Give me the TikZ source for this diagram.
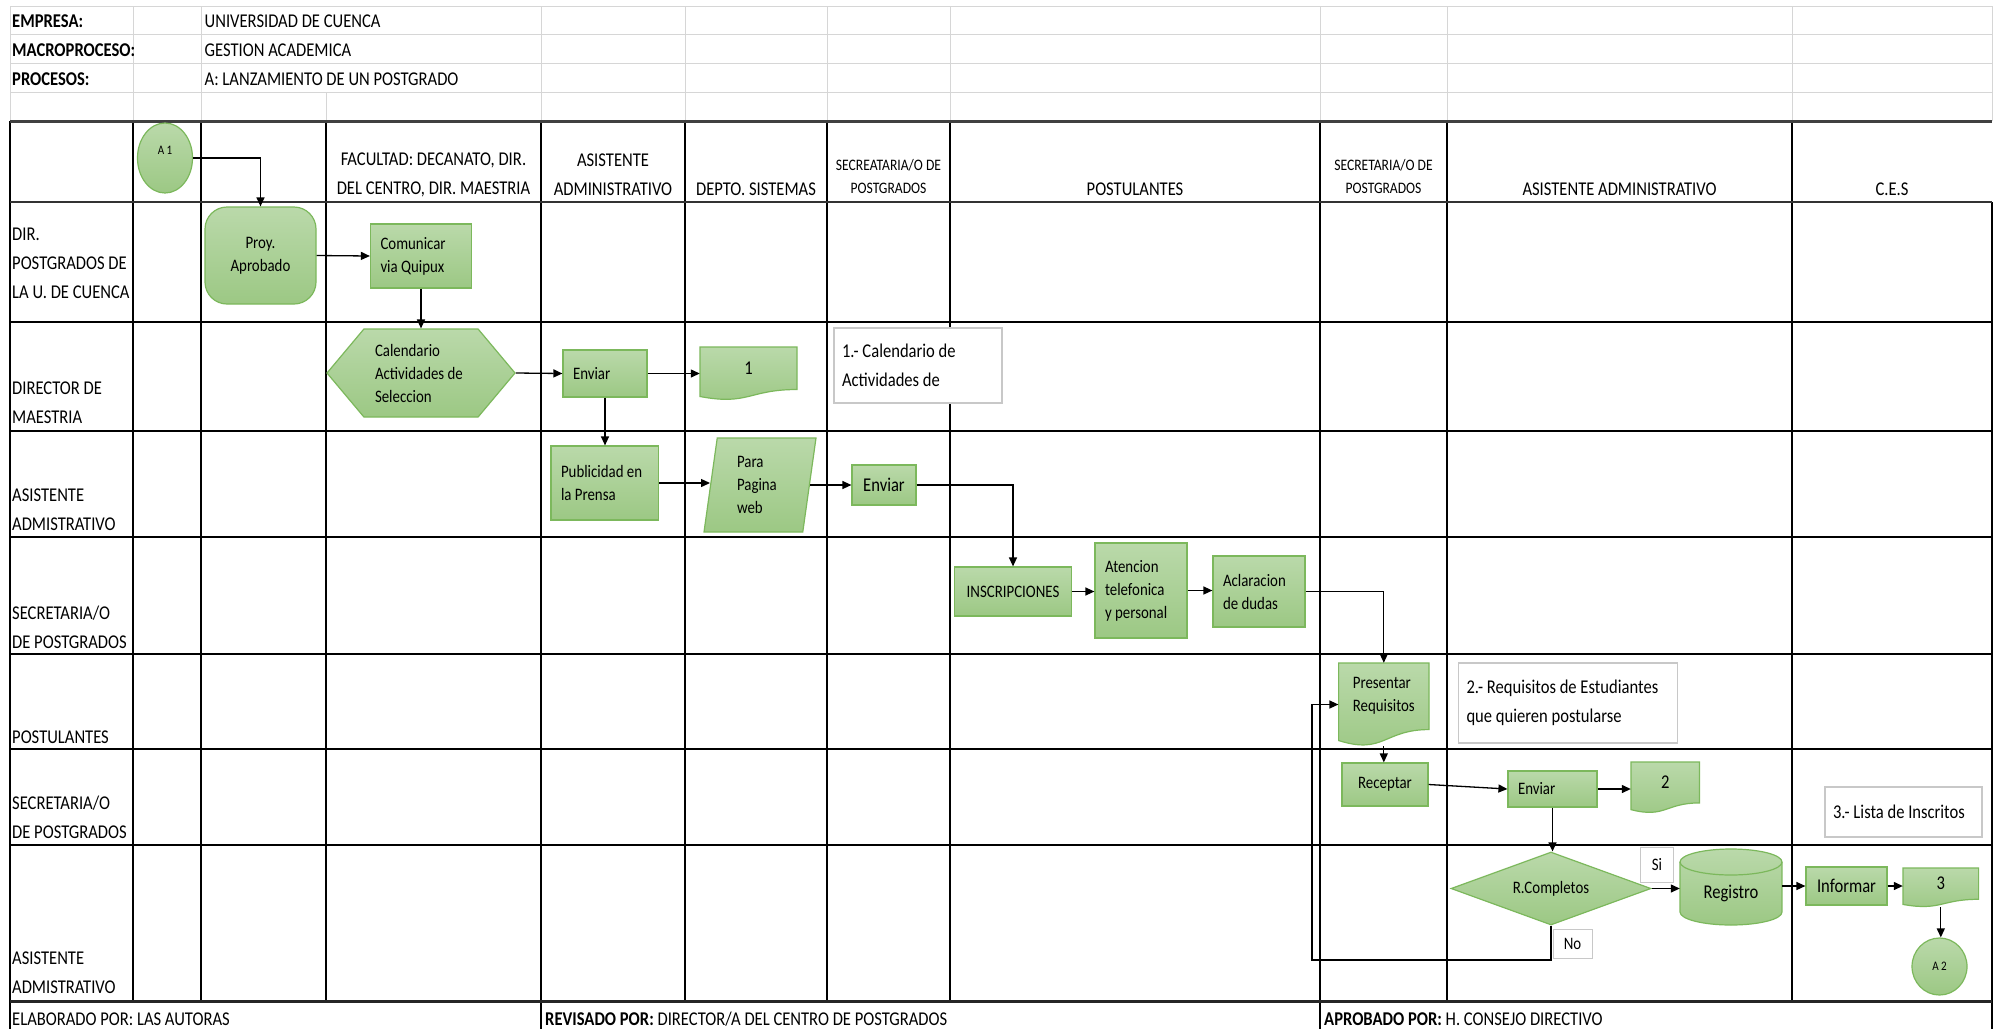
\documentclass[tikz,border=0pt]{standalone}
\usepackage{fontspec}
\setmainfont{Carlito}[FakeStretch=0.85]
\usetikzlibrary{shapes.geometric,shapes.symbols,arrows.meta}
\definecolor{boxtop}{RGB}{186,217,170}
\definecolor{boxbot}{RGB}{156,200,132}
\definecolor{boxline}{RGB}{124,184,92}
\definecolor{gridgray}{RGB}{214,214,214}
\definecolor{notegray}{RGB}{200,200,200}
\newcommand\fbig{\fontsize{19.5}{29}\selectfont}
\newcommand\fmid{\fontsize{17.5}{23}\selectfont}
\newcommand\fsmall{\fontsize{16}{23}\selectfont}
\newcommand\ftiny{\fontsize{13}{15}\selectfont}
\newcommand\docnode[7]{%
  \path[flowfill] (#2,#3) -- ++(#4,0) -- ++(0,{0.802*#5})
    .. controls +({-0.5*#4},0) and +({0.5*#4},{0.173*#5}) .. ++({-#4},{0.132*#5}) -- cycle;
  \node[inner sep=0pt,minimum width=#4,minimum height=#5] (#1) at ({#2+#4/2},{#3+#5/2}) {};
  \node[inner sep=0pt,align=flush left,font=#6] (#1-t) at ({#2+#4/2},{#3+0.4*#5}) {#7};}
\begin{document}
\begin{tikzpicture}[x=1pt,y=-1pt,
  flowfill/.style={draw=boxline,line width=1.2pt,top color=boxtop,bottom color=boxbot},
  proc/.style={flowfill,rectangle,inner xsep=10pt,inner ysep=2pt,font=\fmid,align=flush left},
  lbl/.style={inner sep=0pt,font=\fbig,anchor=west,align=left},
  hdr/.style={inner sep=0pt,font=\fbig,align=center},
  notebox/.style={draw=notegray,fill=white,line width=1.2pt,inner xsep=8pt,font=\fbig,
    align=flush left},
  tagbox/.style={draw=notegray,fill=white,line width=1pt,inner sep=0pt,font=\fmid},
  flow/.style={line width=1.3pt,-{Triangle[length=9pt,width=8pt]}},
  lane/.style={line width=1.5pt},
  thin grid/.style={gridgray,line width=1pt}]
\path[use as bounding box,fill=white] (0,0) rectangle (1997,1029);
\foreach \y in {6,34,63,92}
  \draw[thin grid] (10,\y) -- (1992,\y);
\foreach \x in {10,133,201,541,685,827,950,1320,1447,1792,1992}
  \draw[thin grid] (\x,6) -- (\x,121);
\draw[thin grid] (326,92) -- (326,121);
\foreach \x in {133,201,326,541,685,827,950,1447,1792}
  \draw[lane] (\x,121) -- (\x,1001);
\draw[lane] (10,121) -- (10,1029);
\draw[lane] (1320,121) -- (1320,1029);
\draw[lane] (1992,202) -- (1992,1029);
\draw[lane] (541,1001) -- (541,1029);
\foreach \y in {322,431,537,654,749,845}
  \draw[line width=1.8pt] (10,\y) -- (1992,\y);
\draw[line width=3pt,black!75] (10,121) -- (1992,121);
\draw[line width=2.6pt,black!80] (10,202) -- (1992,202);
\draw[line width=3pt,black!85] (10,1001) -- (1992,1001);
\node[lbl,font=\fbig\bfseries] (empresa) at (12,21) {EMPRESA:};
\node[lbl,font=\fbig\bfseries] (macro) at (12,50) {MACROPROCESO:};
\node[lbl,font=\fbig\bfseries] (procesos) at (12,79) {PROCESOS:};
\node[lbl] (univ) at (204.5,21) {UNIVERSIDAD DE CUENCA};
\node[lbl] (gestion) at (204.5,50) {GESTION ACADEMICA};
\node[lbl] (lanz) at (204.5,79) {A: LANZAMIENTO DE UN POSTGRADO};
\node[hdr] (hfac) at (433.5,174.5) {FACULTAD: DECANATO, DIR.\\DEL CENTRO, DIR. MAESTRIA};
\node[hdr] (hasis) at (613,174.5) {ASISTENTE\\ADMINISTRATIVO};
\node[hdr] (hdepto) at (756,189) {DEPTO. SISTEMAS};
\node[hdr,font=\fsmall] (hsec) at (888.5,176.5) {SECREATARIA/O DE\\POSTGRADOS};
\node[hdr] (hpost) at (1135,189) {POSTULANTES};
\node[hdr,font=\fsmall] (hsectwo) at (1383.5,176.5) {SECRETARIA/O DE\\POSTGRADOS};
\node[hdr] (hasistwo) at (1619.5,189) {ASISTENTE ADMINISTRATIVO};
\node[hdr] (hces) at (1892,189) {C.E.S};
\node[lbl] (ldir) at (12,263.5) {DIR.\\POSTGRADOS DE\\LA U. DE CUENCA};
\node[lbl] (lmae) at (12,403) {DIRECTOR DE\\MAESTRIA};
\node[lbl] (lasis) at (12,510) {ASISTENTE\\ADMISTRATIVO};
\node[lbl] (lsec) at (12,627) {SECRETARIA/O\\DE POSTGRADOS};
\node[lbl] (lpost) at (12,737) {POSTULANTES};
\node[lbl] (lsectwo) at (12,817.5) {SECRETARIA/O\\DE POSTGRADOS};
\node[lbl] (lasistwo) at (12,972.5) {ASISTENTE\\ADMISTRATIVO};
\node[lbl] (elab) at (12,1019) {ELABORADO POR: LAS AUTORAS};
\node[lbl] (revi) at (545,1019) {\textbf{REVISADO POR:} DIRECTOR/A DEL CENTRO DE POSTGRADOS};
\node[lbl] (apro) at (1324,1019) {\textbf{APROBADO POR:} H. CONSEJO DIRECTIVO};
\node[flowfill,ellipse,minimum width=55,minimum height=70,inner sep=0pt,font=\ftiny]
  (aone) at (165,158) {\smash{\raisebox{3.5pt}{A 1}}};
\node[flowfill,rectangle,rounded corners=22pt,minimum width=111,minimum height=97,
  font=\fmid,align=center] (proy) at (260.5,255.5) {Proy.\\Aprobado};
\node[proc,text width=81,minimum height=64] (com) at (421,256) {Comunicar\\via Quipux};
\node[flowfill,signal,signal to=west and east,signal pointer angle=100,minimum width=188,
  minimum height=88,inner sep=0pt,text width=92,align=flush left,font=\fmid]
  (cal) at (421,373) {Calendario\\Actividades de\\Seleccion};
\node[proc,text width=64,minimum height=47] (enva) at (605,373.5) {Enviar};
\docnode{docone}{700}{347}{97}{53}{\fbig}{1}
\node[notebox,text width=152,minimum height=75] (noteone) at (918,365.5) {1.- Calendario de\\Actividades de};
\node[proc,text width=87.5,minimum height=74] (pub) at (604.75,483) {Publicidad en\\la Prensa};
\node[flowfill,trapezium,trapezium left angle=77,trapezium right angle=103,
  trapezium stretches body,minimum width=112,minimum height=94,inner sep=0pt,
  text width=46,align=flush left,font=\fmid] (para) at (760,485) {Para\\Pagina\\web};
\node[proc,align=center,font=\fbig,minimum width=64,minimum height=40,inner xsep=0pt]
  (envb) at (884,485) {Enviar};
\node[proc,align=center,minimum width=116.5,minimum height=49,inner xsep=0pt]
  (insc) at (1013,591.5) {INSCRIPCIONES};
\node[proc,text width=72,minimum height=95] (aten) at (1141,590.5) {Atencion\\telefonica\\y personal};
\node[proc,text width=72,minimum height=71] (acla) at (1259,591.5) {Aclaracion\\de dudas};
\docnode{pres}{1338.6}{663}{90.4}{83}{\fmid}{Presentar\\Requisitos}
\node[notebox,text width=203,minimum height=80] (notetwo) at (1568,703) {2.- Requisitos de Estudiantes\\que quieren postularse};
\node[proc,align=center,minimum width=86,minimum height=43,inner xsep=0pt]
  (recep) at (1385,784.5) {Receptar};
\node[proc,text width=69,minimum height=36] (envc) at (1552.5,789) {Enviar};
\docnode{doctwo}{1631}{762}{68.5}{51}{\fbig}{2}
\node[notebox,text width=141,minimum height=50] (notethree) at (1903.5,812) {3.- Lista de Inscritos};
\node[flowfill,diamond,aspect=2.74,minimum width=200,minimum height=73,inner sep=0pt,
  font=\fmid] (diam) at (1551,888.5) {R.Completos};
\node[tagbox,minimum width=32.5,minimum height=35] (si) at (1657,864.5) {Si};
\node[tagbox,minimum width=39,minimum height=29] (no) at (1572.5,943.5) {No};
\path[flowfill] (1680,862) -- (1680,912) arc[start angle=180,end angle=0,x radius=51,y radius=13]
  -- (1782,862) arc[start angle=0,end angle=-180,x radius=51,y radius=13] -- cycle;
\draw[boxline,line width=1.2pt] (1680,862) arc[start angle=180,end angle=0,x radius=51,y radius=13];
\node[inner sep=0pt,minimum width=102,minimum height=64,font=\fbig] (reg) at (1731,893) {Registro};
\node[proc,align=center,font=\fbig,minimum width=81,minimum height=38,inner xsep=0pt]
  (inf) at (1846.5,886) {Informar};
\docnode{docthree}{1903}{868}{75.6}{39}{\fbig}{3}
\node[flowfill,ellipse,minimum width=55,minimum height=57,inner sep=0pt,font=\ftiny]
  (atwo) at (1939.5,966.5) {A 2};
\draw[flow] (aone.east) -| (proy.north);
\draw[flow] (proy.east) -- (com.west);
\draw[flow] (com.south) -- (cal.north);
\draw[flow] (cal.east) -- (enva.west);
\draw[flow] (enva.east) -- (enva.east -| docone.west);
\draw[flow] (enva.south) -- (enva.south |- pub.north);
\draw[flow] (pub.east) -- (pub.east -| para.west);
\draw[flow] (para.east) -- (para.east -| envb.west);
\draw[flow] (envb.east) -| (insc.north);
\draw[flow] (insc.east) -- (insc.east -| aten.west);
\draw[flow] (aten.east) -- (aten.east -| acla.west);
\draw[flow] (acla.east) -| (pres.north);
\draw[flow] (pres.south) -- (pres.south |- recep.north);
\draw[flow] (recep.east) -- (envc.west);
\draw[flow] (envc.east) -- (envc.east -| doctwo.west);
\draw[flow] (envc.south) -- (envc.south |- diam.north);
\draw[flow] (diam.east) -- (diam.east -| reg.west);
\draw[flow] (inf.west -| reg.east) -- (inf.west);
\draw[flow] (inf.east) -- (inf.east -| docthree.west);
\draw[flow] (docthree.south) -- (docthree.south |- atwo.north);
\coordinate (noback) at (1312,960);
\draw[flow] (diam.south) |- (noback) |- (pres.west);
\end{tikzpicture}
\end{document}
